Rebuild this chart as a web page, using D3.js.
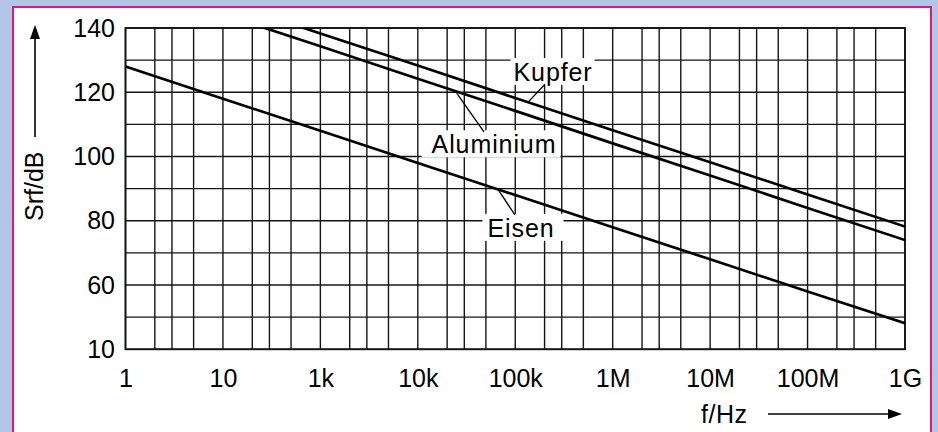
<!DOCTYPE html>
<html>
<head>
<meta charset="utf-8">
<script src="https://cdn.jsdelivr.net/npm/d3@7"></script>
<style>
  html, body { margin: 0; padding: 0; background: #b4c5e5; }
  svg { display: block; }
  text { font-family: "Liberation Sans", Arial, Helvetica, sans-serif; }
</style>
</head>
<body>
<svg id="chart" width="938" height="432"></svg>
<script>
// ---- data ----
const xTickValues = [1, 1e1, 1e2, 1e3, 1e4, 1e5, 1e6, 1e7, 1e8];
const xTickLabels = ["1", "10", "1k", "10k", "100k", "1M", "10M", "100M", "1G"];
const xMinorFactors = [2, 3, 5];
const yTickValues = [40, 60, 80, 100, 120, 140];
const yTickLabels = ["10", "60", "80", "100", "120", "140"];
const yGridValues = [40, 50, 60, 70, 80, 90, 100, 110, 120, 130, 140];

const kupfer    = [158.3, 148.3, 138.3, 128.3, 118.2, 108.2, 98.2, 88.2, 78.2];
const aluminium = [154.4, 144.3, 134.3, 124.2, 114.2, 104.1, 94.1, 84.0, 74.0];
const eisen     = [128.0, 118.0, 108.0, 98.0, 88.0, 78.0, 68.0, 58.0, 48.1];

const seriesNames = ["Kupfer", "Aluminium", "Eisen"];
// label anchor (f, dB), leader start (f, dB) and leader end (f, dB)
const labelAt  = [[10 ** 4.388, 123.5], [10 ** 3.782, 101.0], [10 ** 4.059, 75.0]];
const leaderFrom = [[10 ** 4.134, 117.0], [10 ** 3.399, 119.7], [10 ** 3.826, 89.6]];
const leaderTo   = [[10 ** 4.305, 122.5], [10 ** 3.679, 107.7], [10 ** 3.997, 81.8]];

// ---- layout ----
const svg = d3.select("#chart");
const W = 938, H = 432;
const plot = { left: 125.5, right: 905, top: 28, bottom: 349.3 };

svg.append("rect").attr("x", 0).attr("y", 0).attr("width", W).attr("height", H).attr("fill", "#b4c5e5");
svg.append("rect").attr("x", 13).attr("y", 7).attr("width", 918).attr("height", 440)
   .attr("fill", "#ffffff").attr("stroke", "#e3167f").attr("stroke-width", 2);

const x = d3.scaleLog().domain([1, 1e8]).range([plot.left, plot.right]);
const y = d3.scaleLinear().domain([40, 140]).range([plot.bottom, plot.top]);

const gridColor = "#151515";
const g = svg.append("g");

// vertical grid lines
const xGrid = [];
xTickValues.forEach((v, i) => {
  xGrid.push(v);
  if (i < xTickValues.length - 1) xMinorFactors.forEach(m => xGrid.push(v * m));
});
g.selectAll("line.vgrid").data(xGrid).enter().append("line")
  .attr("x1", d => x(d)).attr("x2", d => x(d))
  .attr("y1", plot.top).attr("y2", plot.bottom)
  .attr("stroke", gridColor).attr("stroke-width", 1.4);

// horizontal grid lines
g.selectAll("line.hgrid").data(yGridValues).enter().append("line")
  .attr("x1", plot.left).attr("x2", plot.right)
  .attr("y1", d => y(d)).attr("y2", d => y(d))
  .attr("stroke", gridColor).attr("stroke-width", 1.4);

// frame
g.append("rect").attr("x", plot.left).attr("y", plot.top)
  .attr("width", plot.right - plot.left).attr("height", plot.bottom - plot.top)
  .attr("fill", "none").attr("stroke", gridColor).attr("stroke-width", 1.8);

// clip
svg.append("defs").append("clipPath").attr("id", "clip")
  .append("rect").attr("x", plot.left).attr("y", plot.top)
  .attr("width", plot.right - plot.left).attr("height", plot.bottom - plot.top);

const line = d3.line().x((d, i) => x(xTickValues[i])).y(d => y(d));
[kupfer, aluminium, eisen].forEach(s => {
  g.append("path").attr("d", line(s)).attr("clip-path", "url(#clip)")
    .attr("fill", "none").attr("stroke", "#000").attr("stroke-width", 2.7);
});

// axes (labels only)
const xAxis = d3.axisBottom(x).tickValues(xTickValues)
  .tickFormat((d, i) => xTickLabels[i]).tickSize(0).tickPadding(20);
const xa = svg.append("g").attr("transform", `translate(0,${plot.bottom})`).call(xAxis);
xa.select(".domain").remove();
xa.selectAll("text").attr("font-size", 25).attr("fill", "#000")
  .style("font-family", '"Liberation Sans", Arial, sans-serif');

const yAxis = d3.axisLeft(y).tickValues(yTickValues)
  .tickFormat((d, i) => yTickLabels[i]).tickSize(0).tickPadding(10.5);
const ya = svg.append("g").attr("transform", `translate(${plot.left},0)`).call(yAxis);
ya.select(".domain").remove();
ya.selectAll("text").attr("font-size", 25).attr("fill", "#000")
  .style("font-family", '"Liberation Sans", Arial, sans-serif');

// series labels with white knock-out boxes
const labG = svg.append("g");
const pads = [[3, 2], [10, 4], [5, 9]];
seriesNames.forEach((name, i) => {
  const t = labG.append("text")
    .attr("x", x(labelAt[i][0])).attr("y", y(labelAt[i][1]))
    .attr("text-anchor", "middle").attr("font-size", 25)
    .attr("letter-spacing", 0.9).attr("fill", "#000").text(name);
  const bb = t.node().getBBox();
  labG.insert("rect", "text")
    .attr("x", bb.x - pads[i][0]).attr("y", bb.y)
    .attr("width", bb.width + pads[i][0] + pads[i][1]).attr("height", bb.height - 1)
    .attr("fill", "#fff");
});
labG.selectAll("line.leader").data(seriesNames).enter().append("line")
  .attr("x1", (d, i) => x(leaderFrom[i][0])).attr("y1", (d, i) => y(leaderFrom[i][1]))
  .attr("x2", (d, i) => x(leaderTo[i][0])).attr("y2", (d, i) => y(leaderTo[i][1]))
  .attr("stroke", "#000").attr("stroke-width", 1.3);

// axis titles with arrows
svg.append("text").attr("transform", "translate(43,221) rotate(-90)")
  .attr("font-size", 25).attr("fill", "#000").text("Srf/dB");
svg.append("line").attr("x1", 35).attr("x2", 35).attr("y1", 137).attr("y2", 37)
  .attr("stroke", "#000").attr("stroke-width", 1.6);
svg.append("path").attr("d", "M35,25 L30,39 L40,39 Z").attr("fill", "#000");

svg.append("text").attr("x", 701).attr("y", 423).attr("font-size", 25)
  .attr("letter-spacing", 0.5).attr("fill", "#000").text("f/Hz");
svg.append("line").attr("x1", 768).attr("x2", 890).attr("y1", 414).attr("y2", 414)
  .attr("stroke", "#000").attr("stroke-width", 1.6);
svg.append("path").attr("d", "M902,414 L888,409 L888,419 Z").attr("fill", "#000");
</script>
</body>
</html>
